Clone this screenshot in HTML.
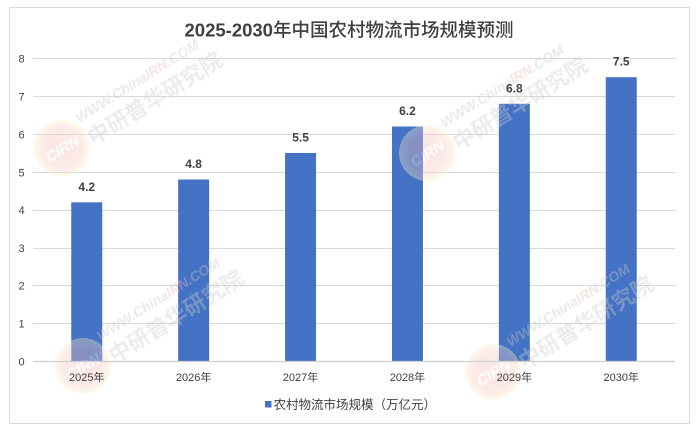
<!DOCTYPE html>
<html><head><meta charset="utf-8"><style>
html,body{margin:0;padding:0;background:#fff;}
svg{display:block;}
</style></head><body>
<svg width="697" height="433" viewBox="0 0 697 433" xmlns="http://www.w3.org/2000/svg">
<defs>
<radialGradient id="cg" cx="50%" cy="50%" r="50%">
<stop offset="0%" stop-color="#f3b9b9"/>
<stop offset="70%" stop-color="#f6c9c4"/>
<stop offset="100%" stop-color="#fbf0c6"/>
</radialGradient>
</defs>
<rect x="0" y="0" width="697" height="433" fill="#fff"/>
<rect x="9.5" y="7.5" width="680" height="416" fill="#fff" stroke="#d9d9d9" stroke-width="1"/>

<!-- gridlines -->
<g stroke="#d9d9d9" stroke-width="1">
<line x1="33" x2="675" y1="58.5" y2="58.5"/>
<line x1="33" x2="675" y1="96.5" y2="96.5"/>
<line x1="33" x2="675" y1="134.5" y2="134.5"/>
<line x1="33" x2="675" y1="172.5" y2="172.5"/>
<line x1="33" x2="675" y1="210.5" y2="210.5"/>
<line x1="33" x2="675" y1="248.5" y2="248.5"/>
<line x1="33" x2="675" y1="285.5" y2="285.5"/>
<line x1="33" x2="675" y1="323.5" y2="323.5"/>
</g>

<!-- bars -->
<g fill="#4472c4">
<rect x="71.25" y="202.3" width="31" height="159.1"/>
<rect x="178.15" y="179.5" width="31" height="181.9"/>
<rect x="285.05" y="153.0" width="31" height="208.4"/>
<rect x="391.95" y="126.5" width="31" height="234.9"/>
<rect x="498.85" y="103.8" width="31" height="257.6"/>
<rect x="605.75" y="77.2" width="31" height="284.2"/>
</g>

<!-- watermarks -->
<g opacity="0.38" font-family="Liberation Sans, 'Noto Sans CJK SC', sans-serif" font-weight="bold">
<g transform="translate(62,148) rotate(-32)">
<circle cx="0" cy="0" r="28" fill="url(#cg)"/>
<text x="0" y="6" font-size="15" fill="#fff" text-anchor="middle" font-style="italic">CIRN</text>
<text x="28" y="-12" font-size="14" fill="#c8c8c8" font-style="italic">WWW.China<tspan fill="#efb3b3">IRN</tspan>.COM</text>
<text x="28" y="15" font-size="22" fill="#cdcdcd" font-family="'Noto Sans CJK SC', sans-serif">中研普华研究院</text>
</g>
<g transform="translate(427,153) rotate(-32)">
<circle cx="0" cy="0" r="28" fill="url(#cg)"/>
<text x="0" y="6" font-size="15" fill="#fff" text-anchor="middle" font-style="italic">CIRN</text>
<text x="28" y="-12" font-size="14" fill="#c8c8c8" font-style="italic">WWW.China<tspan fill="#efb3b3">IRN</tspan>.COM</text>
<text x="28" y="15" font-size="22" fill="#cdcdcd" font-family="'Noto Sans CJK SC', sans-serif">中研普华研究院</text>
</g>
<g transform="translate(83,366) rotate(-32)">
<circle cx="0" cy="0" r="28" fill="url(#cg)"/>
<text x="0" y="6" font-size="15" fill="#fff" text-anchor="middle" font-style="italic">CIRN</text>
<text x="28" y="-12" font-size="14" fill="#c8c8c8" font-style="italic">WWW.China<tspan fill="#efb3b3">IRN</tspan>.COM</text>
<text x="28" y="15" font-size="22" fill="#cdcdcd" font-family="'Noto Sans CJK SC', sans-serif">中研普华研究院</text>
</g>
<g transform="translate(493,372) rotate(-32)">
<circle cx="0" cy="0" r="28" fill="url(#cg)"/>
<text x="0" y="6" font-size="15" fill="#fff" text-anchor="middle" font-style="italic">CIRN</text>
<text x="28" y="-12" font-size="14" fill="#c8c8c8" font-style="italic">WWW.China<tspan fill="#efb3b3">IRN</tspan>.COM</text>
<text x="28" y="15" font-size="22" fill="#cdcdcd" font-family="'Noto Sans CJK SC', sans-serif">中研普华研究院</text>
</g>
</g>

<!-- axis line -->
<line x1="33" x2="675" y1="361.5" y2="361.5" stroke="#d0d0d0" stroke-width="1.2"/>

<!-- data labels -->
<g font-family="Liberation Sans, sans-serif" font-size="12" font-weight="bold" fill="#404040" text-anchor="middle">
<text x="86.75" y="190.8">4.2</text>
<text x="193.65" y="168">4.8</text>
<text x="300.55" y="141.5">5.5</text>
<text x="407.45" y="115">6.2</text>
<text x="514.35" y="92.3">6.8</text>
<text x="621.25" y="65.7">7.5</text>
</g>

<!-- y axis labels -->
<g font-family="Liberation Sans, sans-serif" font-size="11" fill="#404040" text-anchor="middle">
<text x="21.5" y="62.5">8</text>
<text x="21.5" y="100.5">7</text>
<text x="21.5" y="138.5">6</text>
<text x="21.5" y="176.5">5</text>
<text x="21.5" y="214">4</text>
<text x="21.5" y="252">3</text>
<text x="21.5" y="289.5">2</text>
<text x="21.5" y="327.5">1</text>
<text x="21.5" y="365.5">0</text>
</g>

<!-- x axis labels -->
<g font-family="Liberation Sans, 'Noto Sans CJK SC', sans-serif" font-size="11" fill="#404040" text-anchor="middle">
<text x="86.75" y="381">2025年</text>
<text x="193.65" y="381">2026年</text>
<text x="300.55" y="381">2027年</text>
<text x="407.45" y="381">2028年</text>
<text x="514.35" y="381">2029年</text>
<text x="621.25" y="381">2030年</text>
</g>

<!-- title -->
<text x="349" y="36.5" text-anchor="middle" font-family="Liberation Sans, 'Noto Sans CJK SC', sans-serif" font-size="18.5" fill="#404040"><tspan font-weight="bold">2025-2030</tspan><tspan font-weight="500">年中国农村物流市场规模预测</tspan></text>

<!-- legend -->
<rect x="265" y="401" width="6.5" height="6.5" fill="#4472c4"/>
<text x="273.5" y="408.8" font-family="Liberation Sans, 'Noto Sans CJK SC', sans-serif" font-size="12.5" fill="#404040">农村物流市场规模（万亿元）</text>
</svg>
</body></html>
